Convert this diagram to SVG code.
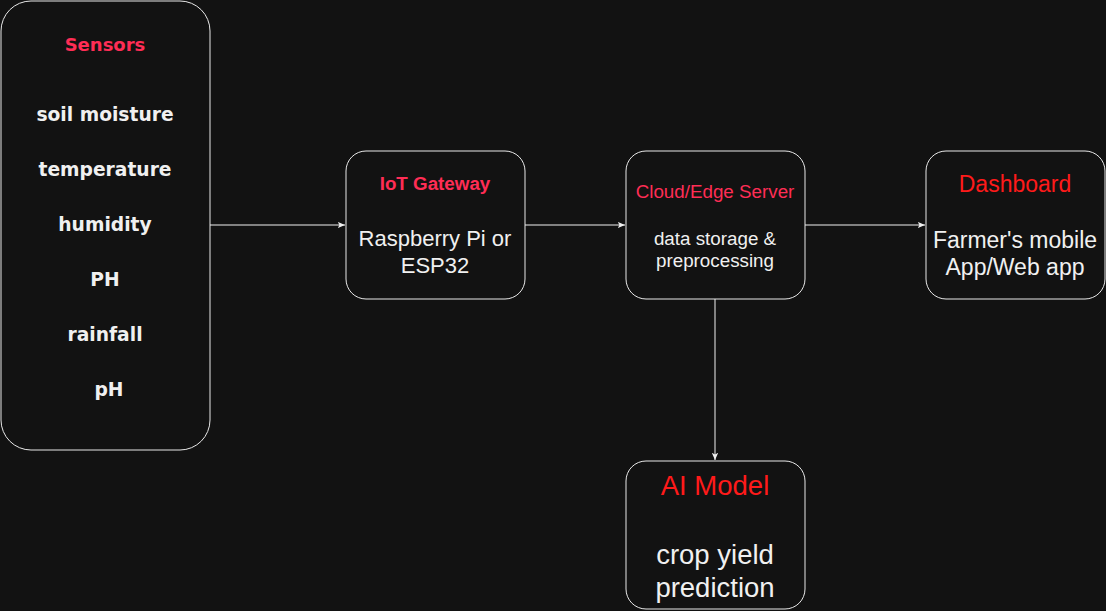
<svg xmlns="http://www.w3.org/2000/svg" width="1106" height="611" viewBox="0 0 1106 611">
<defs>
<style>
.box{fill:#121212;stroke:#e8e8e8;stroke-width:1}
.t{font-family:"Liberation Sans",Arial,sans-serif;fill:#f0f0f0;text-anchor:middle}
.c{font-family:"Comic Sans MS","DejaVu Sans",sans-serif;font-weight:bold;font-size:18.7px;fill:#f0f0f0;text-anchor:middle}
.pink{fill:#ff2d55}
.red{fill:#ff1a1a}
.edge{stroke:#f0f0f0;stroke-width:1;fill:none;marker-end:url(#ah)}
</style>
<marker id="ah" viewBox="0 0 10 10" refX="9" refY="5" markerWidth="8" markerHeight="8" orient="auto" markerUnits="userSpaceOnUse">
<path d="M0,1 L9,5 L0,9 L2,5 Z" fill="#f0f0f0"/>
</marker>
</defs>
<rect width="1106" height="611" fill="#121212"/>
<g id="sensors">
<rect class="box" x="1" y="1" width="209" height="449" rx="30"/>
<text x="105" y="51" style="font-family:'DejaVu Sans',Verdana,sans-serif;font-weight:bold;font-size:18px;text-anchor:middle" class="pink">Sensors</text>
<text class="c" x="105" y="121">soil moisture</text>
<text class="c" x="105" y="176">temperature</text>
<text class="c" x="105" y="231">humidity</text>
<text class="c" x="105" y="286">PH</text>
<text class="c" x="105" y="341">rainfall</text>
<text class="c" x="109" y="396">pH</text>
</g>
<g id="gateway">
<rect class="box" x="346" y="151" width="179" height="148" rx="20"/>
<text class="t pink" x="435" y="190" style="font-size:18.8px;font-weight:bold">IoT Gateway</text>
<text class="t" x="435" y="246" style="font-size:22px">Raspberry Pi or</text>
<text class="t" x="435" y="273" style="font-size:22px">ESP32</text>
</g>
<g id="cloud">
<rect class="box" x="626" y="151" width="179" height="148" rx="20"/>
<text class="t pink" x="715" y="198" style="font-size:18.8px">Cloud/Edge Server</text>
<text class="t" x="715" y="245" style="font-size:18.8px">data storage &amp;</text>
<text class="t" x="715" y="267" style="font-size:18.8px">preprocessing</text>
</g>
<g id="dashboard">
<rect class="box" x="926" y="151" width="179" height="148" rx="20"/>
<text class="t red" x="1015" y="192" style="font-size:23px">Dashboard</text>
<text class="t" x="1015" y="248" style="font-size:23px">Farmer's mobile</text>
<text class="t" x="1015" y="275" style="font-size:23px">App/Web app</text>
</g>
<g id="aimodel">
<rect class="box" x="626" y="461" width="179" height="148" rx="20"/>
<text class="t red" x="715" y="495" style="font-size:27.5px">AI Model</text>
<text class="t" x="715" y="564" style="font-size:27.5px">crop yield</text>
<text class="t" x="715" y="597" style="font-size:27.5px">prediction</text>
</g>
<g id="connectors">
<line class="edge" x1="210" y1="225" x2="345" y2="225"/>
<line class="edge" x1="525" y1="225" x2="625" y2="225"/>
<line class="edge" x1="805" y1="225" x2="925" y2="225"/>
<line class="edge" x1="715" y1="299" x2="715" y2="460"/>
</g>
</svg>
